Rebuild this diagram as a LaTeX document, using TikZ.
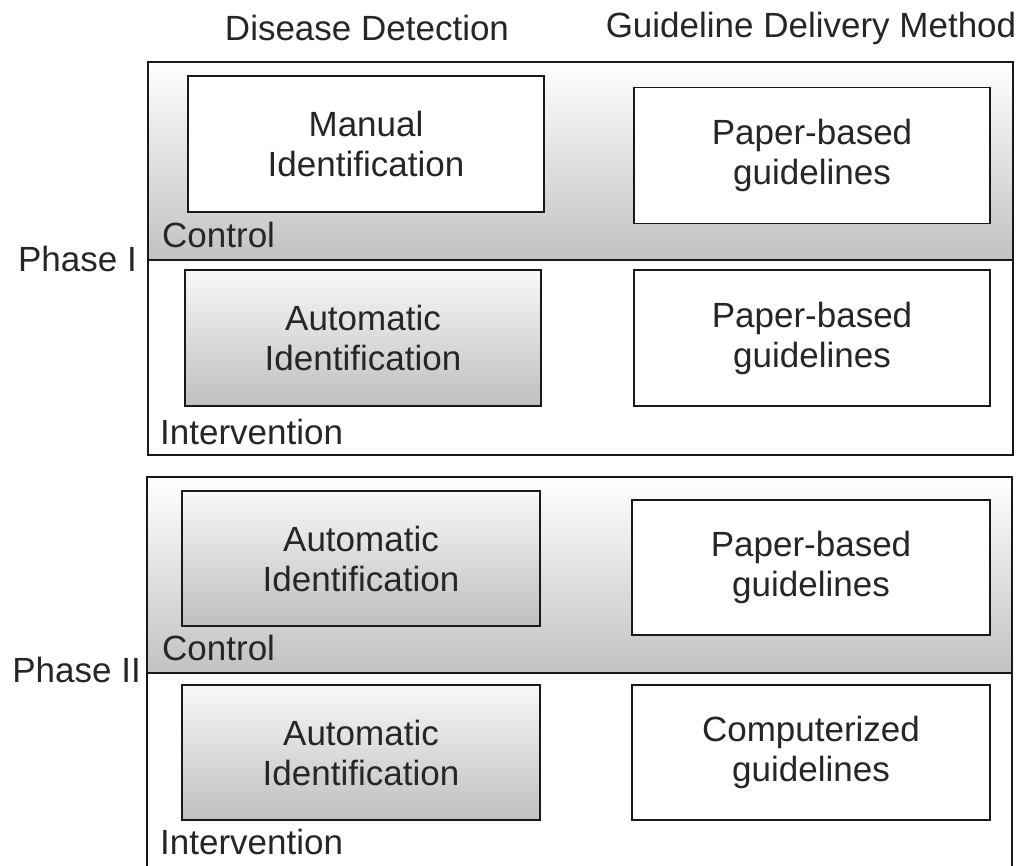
\documentclass[tikz,border=0pt]{standalone}
\usepackage{fontspec}
\setmainfont{Liberation Sans}
\begin{document}
\begin{tikzpicture}[x=1pt,y=-1pt,
  txt/.style={font=\fontsize{35}{40}\selectfont, text=black!85, inner sep=0pt},
  cell/.style={txt, draw=black!90, line width=1.6pt, fill=white, align=center,
    minimum width=356pt, minimum height=136pt},
  greycell/.style={cell, top color=black!3, bottom color=black!25},
  frame/.style={draw=black!90, line width=1.8pt},
  band/.style={frame, top color=white, bottom color=black!24},
]
\useasboundingbox (0,0) rectangle (1023,866);

% column headings
\node[txt] (hdet) at (367,28) {Disease Detection};
\node[txt] (hdel) at (811,28) {Guideline Delivery Method};

% ---- Phase I ----
\draw[frame, fill=white] (148,62) rectangle (1013,455);
\draw[band] (148,62) rectangle (1013,260);
\node[cell] (m1) at (366,144) {Manual\\Identification};
\node[cell] (p1) at (812,155.5) {Paper-based\\guidelines};
\node[txt, anchor=west] (c1) at (162,235) {Control};
\node[greycell] (a1) at (363,338) {Automatic\\Identification};
\node[cell] (p2) at (812,338) {Paper-based\\guidelines};
\node[txt, anchor=west] (i1) at (160,432) {Intervention};
\node[txt, anchor=east] (ph1) at (137,259) {Phase I};

% ---- Phase II (frame runs past the lower edge) ----
\fill[white] (147,477) rectangle (1012,866);
\draw[frame] (147,866) -- (147,477) -- (1012,477) -- (1012,866);
\draw[band] (147,477) rectangle (1012,673);
\node[greycell, minimum width=358pt, minimum height=135pt] (a2) at (361,558.5) {Automatic\\Identification};
\node[cell, minimum width=358pt, minimum height=135pt] (p3) at (811,567.5) {Paper-based\\guidelines};
\node[txt, anchor=west] (c2) at (162,648) {Control};
\node[greycell, minimum width=358pt, minimum height=135pt] (a3) at (361,752.5) {Automatic\\Identification};
\node[cell, minimum width=358pt, minimum height=135pt] (g1) at (811,752.5) {Computerized\\guidelines};
\node[txt, anchor=west] (i2) at (160,842) {Intervention};
\node[txt, anchor=east] (ph2) at (141,670) {Phase II};
\end{tikzpicture}
\end{document}
